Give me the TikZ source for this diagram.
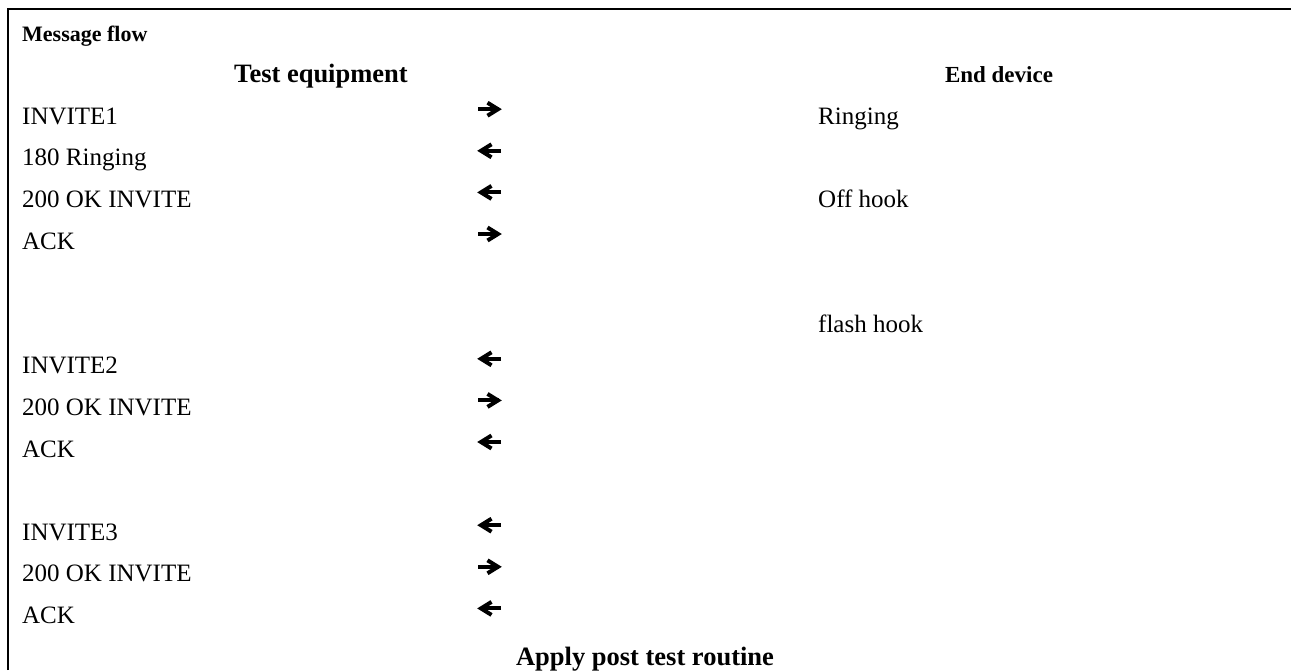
\documentclass[tikz,border=0pt]{standalone}
\usepackage{fontspec}
\setmainfont{Liberation Serif}
\begin{document}
\begin{tikzpicture}[x=1pt,y=-1pt,
  txt/.style={inner sep=0pt,anchor=base west,font=\fontsize{25}{28}\selectfont},
  hdr/.style={inner sep=0pt,anchor=base,font=\fontsize{26.5}{28}\selectfont\bfseries},
  glyph/.style={line width=4pt,miter limit=10},
  rarrow/.pic={\draw[glyph] (-11.5,0) -- (9,0); \draw[glyph,line join=miter] (-2,-6.5) -- (8.5,0) -- (-2,6.5);},
  larrow/.pic={\draw[glyph] (11.5,0) -- (-9,0); \draw[glyph,line join=miter] (2,-6.5) -- (-8.5,0) -- (2,6.5);}
]
\useasboundingbox (0,0) rectangle (1291,670);
\draw[line width=2.8pt] (8,670) -- (8,9) -- (1291,9);

\node[inner sep=0pt,anchor=base west,font=\fontsize{22}{26}\selectfont\bfseries] (title) at (22,41) {Message flow};
\node[hdr] (te) at (321,82.6) {Test equipment};
\node[hdr,font=\fontsize{23}{28}\selectfont\bfseries] (ed) at (999,82.6) {End device};

% rows: baseline = 41 + 41.6*i
\node[txt] (m1) at (22,124.2) {INVITE1};
\node[txt] (m2) at (22,165.8) {180 Ringing};
\node[txt] (m3) at (22,207.4) {200 OK INVITE};
\node[txt] (m4) at (22,249.0) {ACK};
\node[txt] (m6) at (22,373.8) {INVITE2};
\node[txt] (m7) at (22,415.4) {200 OK INVITE};
\node[txt] (m8) at (22,457.0) {ACK};
\node[txt] (m10) at (22,540.2) {INVITE3};
\node[txt] (m11) at (22,581.8) {200 OK INVITE};
\node[txt] (m12) at (22,623.4) {ACK};

\node[txt] (d1) at (818,124.2) {Ringing};
\node[txt] (d3) at (818,207.4) {Off hook};
\node[txt] (d5) at (818,332.2) {flash hook};

\node[hdr] (post) at (645,665) {Apply post test routine};

\pic at (489.5,109.2) {rarrow};
\pic at (489.5,150.8) {larrow};
\pic at (489.5,192.4) {larrow};
\pic at (489.5,234.0) {rarrow};
\pic at (489.5,358.8) {larrow};
\pic at (489.5,400.4) {rarrow};
\pic at (489.5,442.0) {larrow};
\pic at (489.5,525.2) {larrow};
\pic at (489.5,566.8) {rarrow};
\pic at (489.5,608.4) {larrow};
\end{tikzpicture}
\end{document}
